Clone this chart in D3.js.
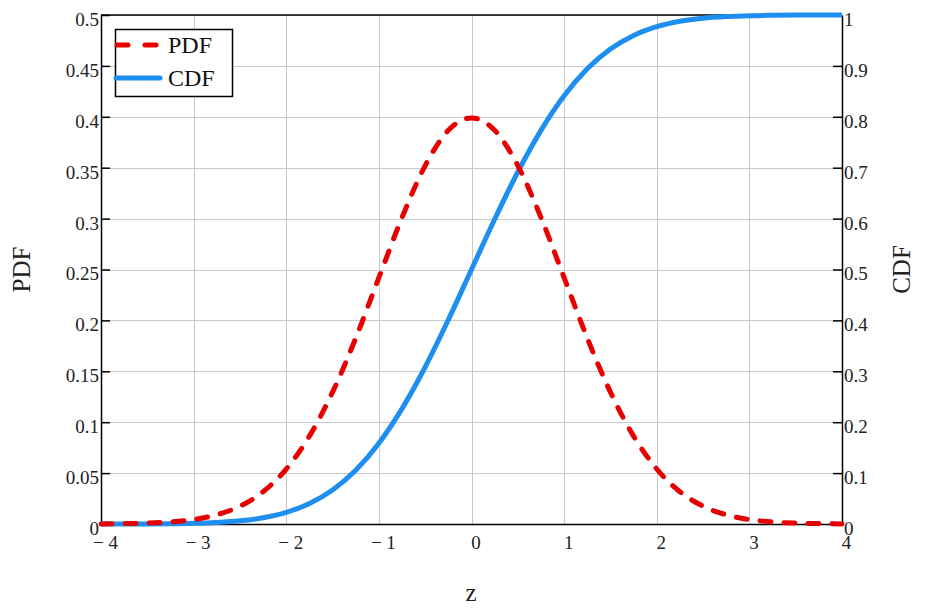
<!DOCTYPE html>
<html><head><meta charset="utf-8">
<script src="https://cdn.jsdelivr.net/npm/d3@7"></script>
<style>
body{margin:0;background:#fff;}
text{font-family:"Liberation Serif","Times New Roman",serif;}
</style></head>
<body><svg id="chart" width="925" height="609"></svg>
<script>
const zValues = [-4,-3.75,-3.5,-3.25,-3,-2.75,-2.5,-2.25,-2,-1.75,-1.5,-1.25,-1,-0.75,-0.5,-0.25,0,0.25,0.5,0.75,1,1.25,1.5,1.75,2,2.25,2.5,2.75,3,3.25,3.5,3.75,4];
const pdfValues = [0.0001,0.0004,0.0009,0.0020,0.0044,0.0091,0.0175,0.0317,0.0540,0.0863,0.1295,0.1826,0.2420,0.3011,0.3521,0.3867,0.3989,0.3867,0.3521,0.3011,0.2420,0.1826,0.1295,0.0863,0.0540,0.0317,0.0175,0.0091,0.0044,0.0020,0.0009,0.0004,0.0001];
const cdfValues = [0.00003,0.0001,0.0002,0.0006,0.0013,0.0030,0.0062,0.0122,0.0228,0.0401,0.0668,0.1056,0.1587,0.2266,0.3085,0.4013,0.5,0.5987,0.6915,0.7734,0.8413,0.8944,0.9332,0.9599,0.9772,0.9878,0.9938,0.9970,0.9987,0.9994,0.9998,0.9999,1.0];
const xTicks = [-4,-3,-2,-1,0,1,2,3,4];
const yLeftTicks = [0,0.05,0.1,0.15,0.2,0.25,0.3,0.35,0.4,0.45,0.5];
const yRightTicks = [0,0.1,0.2,0.3,0.4,0.5,0.6,0.7,0.8,0.9,1];
const seriesNames = ["PDF","CDF"];

const svg = d3.select("#chart");
const L=101, R=842, T=15, B=524;
const x = d3.scaleLinear().domain([-4,4]).range([L,R]);
const yL = d3.scaleLinear().domain([0,0.5]).range([B,T]);
const yR = d3.scaleLinear().domain([0,1]).range([B,T]);
const red = "#e80000", blue = "#1f8ef1";

// grid
const g = svg.append("g");
g.selectAll(".vg").data(xTicks).enter().append("line")
  .attr("x1",d=>Math.round(x(d))+0.5).attr("x2",d=>Math.round(x(d))+0.5)
  .attr("y1",T).attr("y2",B).attr("stroke","#c8c8c8").attr("stroke-width",1);
g.selectAll(".hg").data(yLeftTicks).enter().append("line")
  .attr("x1",L).attr("x2",R)
  .attr("y1",d=>Math.round(yL(d))+0.5).attr("y2",d=>Math.round(yL(d))+0.5)
  .attr("stroke","#c8c8c8").attr("stroke-width",1);

// axes
const fs = 19;
const axL = d3.axisLeft(yL).tickValues(yLeftTicks).tickSizeInner(-9).tickSizeOuter(0).tickPadding(3).tickFormat(d=>d3.format("")(d));
const gL = svg.append("g").attr("transform",`translate(${L},0)`).call(axL);
const axR = d3.axisRight(yR).tickValues(yRightTicks).tickSizeInner(-9).tickSizeOuter(0).tickPadding(3).tickFormat(d=>d3.format("")(d));
const gR = svg.append("g").attr("transform",`translate(${R},0)`).call(axR);
const axB = d3.axisBottom(x).tickValues(xTicks).tickSize(0).tickPadding(12).tickFormat(d=> d<0 ? "\u2212 "+Math.abs(d) : String(d));
const gB = svg.append("g").attr("transform",`translate(0,${B})`).call(axB);
[gL,gR,gB].forEach(a=>{
  a.selectAll(".domain").attr("stroke","#000").attr("stroke-width",1.5);
  a.selectAll(".tick line").attr("stroke","#000").attr("stroke-width",1.5);
  a.selectAll("text").style("font-family",'"Liberation Serif",serif').style("font-size",fs+"px").attr("fill","#222");
});
gL.selectAll("text").attr("dy","0.55em").attr("x",-2);
gR.selectAll("text").attr("dy","0.55em").attr("x",2);
gB.selectAll("text").attr("dx","4");
// top border
svg.append("line").attr("x1",L).attr("x2",R).attr("y1",T).attr("y2",T).attr("stroke","#000").attr("stroke-width",1.5);

// lines
const pdfLine = d3.line().x((d,i)=>x(zValues[i])).y(d=>yL(d)).curve(d3.curveMonotoneX);
const cdfLine = d3.line().x((d,i)=>x(zValues[i])).y(d=>yR(d)).curve(d3.curveMonotoneX);
svg.append("path").datum(cdfValues).attr("d",cdfLine).attr("fill","none").attr("stroke",blue).attr("stroke-width",5);
svg.append("path").datum(pdfValues).attr("d",pdfLine).attr("fill","none").attr("stroke",red).attr("stroke-width",5)
  .attr("stroke-dasharray","11,13").attr("stroke-linecap","round");

// axis titles
svg.append("text").attr("transform",`translate(30,${(T+B)/2}) rotate(-90)`).attr("text-anchor","middle")
  .style("font-size","25px").attr("fill","#222").text(seriesNames[0]);
svg.append("text").attr("transform",`translate(910,${(T+B)/2}) rotate(-90)`).attr("text-anchor","middle")
  .style("font-size","25px").attr("fill","#222").text(seriesNames[1]);
svg.append("text").attr("x",471).attr("y",601).attr("text-anchor","middle")
  .style("font-size","25px").attr("fill","#222").text("z");

// legend
const lg = svg.append("g");
lg.append("rect").attr("x",115.5).attr("y",29.5).attr("width",117).attr("height",67).attr("fill","#fff").attr("stroke","#000").attr("stroke-width",1.5);
lg.append("line").attr("x1",117).attr("x2",160).attr("y1",45).attr("y2",45).attr("stroke",red).attr("stroke-width",5).attr("stroke-dasharray","11,17").attr("stroke-linecap","round");
lg.append("line").attr("x1",116).attr("x2",160).attr("y1",78).attr("y2",78).attr("stroke",blue).attr("stroke-width",5).attr("stroke-linecap","round");
lg.append("text").attr("x",168).attr("y",53).style("font-size","24px").attr("fill","#111").text(seriesNames[0]);
lg.append("text").attr("x",168).attr("y",86).style("font-size","24px").attr("fill","#111").text(seriesNames[1]);
</script></body></html>
